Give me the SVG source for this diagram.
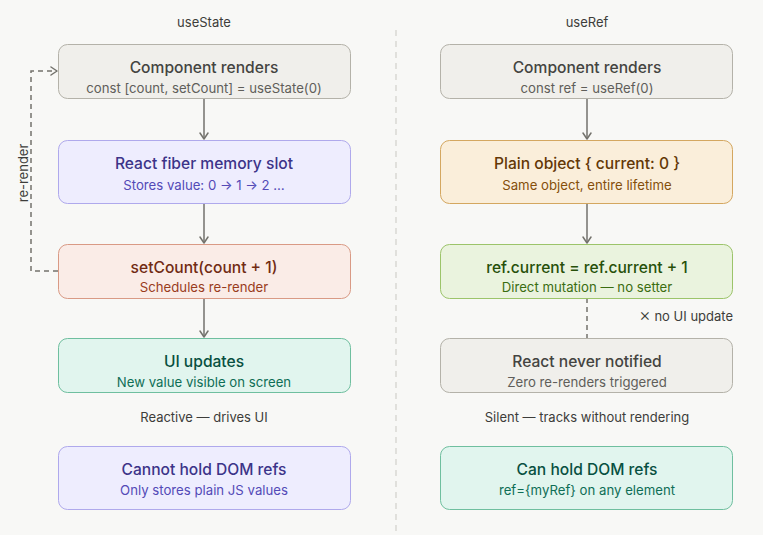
<svg xmlns="http://www.w3.org/2000/svg" width="763" height="535" viewBox="0 0 763 535">
<defs>
<style>
text{font-family:Inter,"Noto Sans","Liberation Sans",sans-serif;text-anchor:middle}
.t{font-size:15.6px;font-weight:500}
.s{font-size:13.2px;font-weight:400}
.h{font-size:13px;fill:#3d3d3a}
.lbl{font-size:13px;fill:#3d3d3a}
.gray rect{fill:#f0efeb;stroke:#b4b2a9}
.gray .t{fill:#444441}.gray .s{fill:#5f5e5a}
.purple rect{fill:#eeedfe;stroke:#afa9ec}
.purple .t{fill:#3c3489}.purple .s{fill:#534ab7}
.coral rect{fill:#faece7;stroke:#d99a85}
.coral .t{fill:#712b13}.coral .s{fill:#993c1d}
.teal rect{fill:#e1f5ee;stroke:#6fbf9f}
.teal .t{fill:#085041}.teal .s{fill:#0f6e56}
.amber rect{fill:#faeeda;stroke:#d4a760}
.amber .t{fill:#633806}.amber .s{fill:#854f0b}
.green rect{fill:#eaf3de;stroke:#9cc46a}
.green .t{fill:#27500a}.green .s{fill:#3b6d11}
rect{stroke-width:1}
.c{fill:none;stroke:#73726c;stroke-width:1.5}
.d{fill:none;stroke:#73726c;stroke-width:1.5;stroke-dasharray:5 4}
</style>
<marker id="arr" viewBox="0 0 10 10" refX="8" refY="5" markerWidth="10" markerHeight="10" orient="auto-start-reverse" markerUnits="userSpaceOnUse">
<path d="M2 1 L8 5 L2 9" fill="none" stroke="#73726c" stroke-width="1.5" stroke-linecap="round" stroke-linejoin="round"/>
</marker>
</defs>
<rect width="763" height="535" fill="#f8f8f6"/>
<line x1="396" y1="30" x2="396" y2="532" stroke="#c9c8c2" stroke-width="1" stroke-dasharray="6 5"/>
<text class="h" x="204" y="27">useState</text>
<text class="h" x="587" y="27">useRef</text>

<g id="connectors">
<line class="c" x1="204" y1="98" x2="204" y2="139" marker-end="url(#arr)"/>
<line class="c" x1="204" y1="203" x2="204" y2="243" marker-end="url(#arr)"/>
<line class="c" x1="204" y1="298" x2="204" y2="337" marker-end="url(#arr)"/>
<path class="d" d="M58 271 H31 V71 H57" marker-end="url(#arr)"/>
<text class="lbl" transform="translate(28 173) rotate(-90)">re-render</text>
<line class="c" x1="587" y1="98" x2="587" y2="139" marker-end="url(#arr)"/>
<line class="c" x1="587" y1="203" x2="587" y2="243" marker-end="url(#arr)"/>
<line class="d" x1="587" y1="298" x2="587" y2="338" stroke-dasharray="4 3"/>
<text class="lbl" x="733" y="321" style="text-anchor:end"><tspan font-size="18" font-weight="300">×</tspan> no UI update</text>
</g>

<g id="state-render" class="gray">
<rect x="58.5" y="44.5" width="292" height="54" rx="9"/>
<text class="t" x="204" y="73">Component renders</text>
<text class="s" x="204" y="93">const [count, setCount] = useState(0)</text>
</g>
<g id="state-fiber" class="purple">
<rect x="58.5" y="140.5" width="292" height="63" rx="9"/>
<text class="t" x="204" y="169">React fiber memory slot</text>
<text class="s" x="204" y="190">Stores value: 0 → 1 → 2 …</text>
</g>
<g id="state-set" class="coral">
<rect x="58.5" y="244.5" width="292" height="54" rx="9"/>
<text class="t" x="204" y="273">setCount(count + 1)</text>
<text class="s" x="204" y="292">Schedules re-render</text>
</g>
<g id="state-ui" class="teal">
<rect x="58.5" y="338.5" width="292" height="54" rx="9"/>
<text class="t" x="204" y="367">UI updates</text>
<text class="s" x="204" y="387">New value visible on screen</text>
</g>
<text class="lbl" x="204" y="422">Reactive — drives UI</text>
<g id="state-dom" class="purple">
<rect x="58.5" y="446.5" width="292" height="63" rx="9"/>
<text class="t" x="204" y="475">Cannot hold DOM refs</text>
<text class="s" x="204" y="495">Only stores plain JS values</text>
</g>

<g id="ref-render" class="gray">
<rect x="440.5" y="44.5" width="292" height="54" rx="9"/>
<text class="t" x="587" y="73">Component renders</text>
<text class="s" x="587" y="93">const ref = useRef(0)</text>
</g>
<g id="ref-object" class="amber">
<rect x="440.5" y="140.5" width="292" height="63" rx="9"/>
<text class="t" x="587" y="169">Plain object { current: 0 }</text>
<text class="s" x="587" y="190">Same object, entire lifetime</text>
</g>
<g id="ref-mutate" class="green">
<rect x="440.5" y="244.5" width="292" height="54" rx="9"/>
<text class="t" x="587" y="273">ref.current = ref.current + 1</text>
<text class="s" x="587" y="292">Direct mutation — no setter</text>
</g>
<g id="ref-never" class="gray">
<rect x="440.5" y="338.5" width="292" height="54" rx="9"/>
<text class="t" x="587" y="367">React never notified</text>
<text class="s" x="587" y="387">Zero re-renders triggered</text>
</g>
<text class="lbl" x="587" y="422">Silent — tracks without rendering</text>
<g id="ref-dom" class="teal">
<rect x="440.5" y="446.5" width="292" height="63" rx="9"/>
<text class="t" x="587" y="475">Can hold DOM refs</text>
<text class="s" x="587" y="495">ref={myRef} on any element</text>
</g>
</svg>
